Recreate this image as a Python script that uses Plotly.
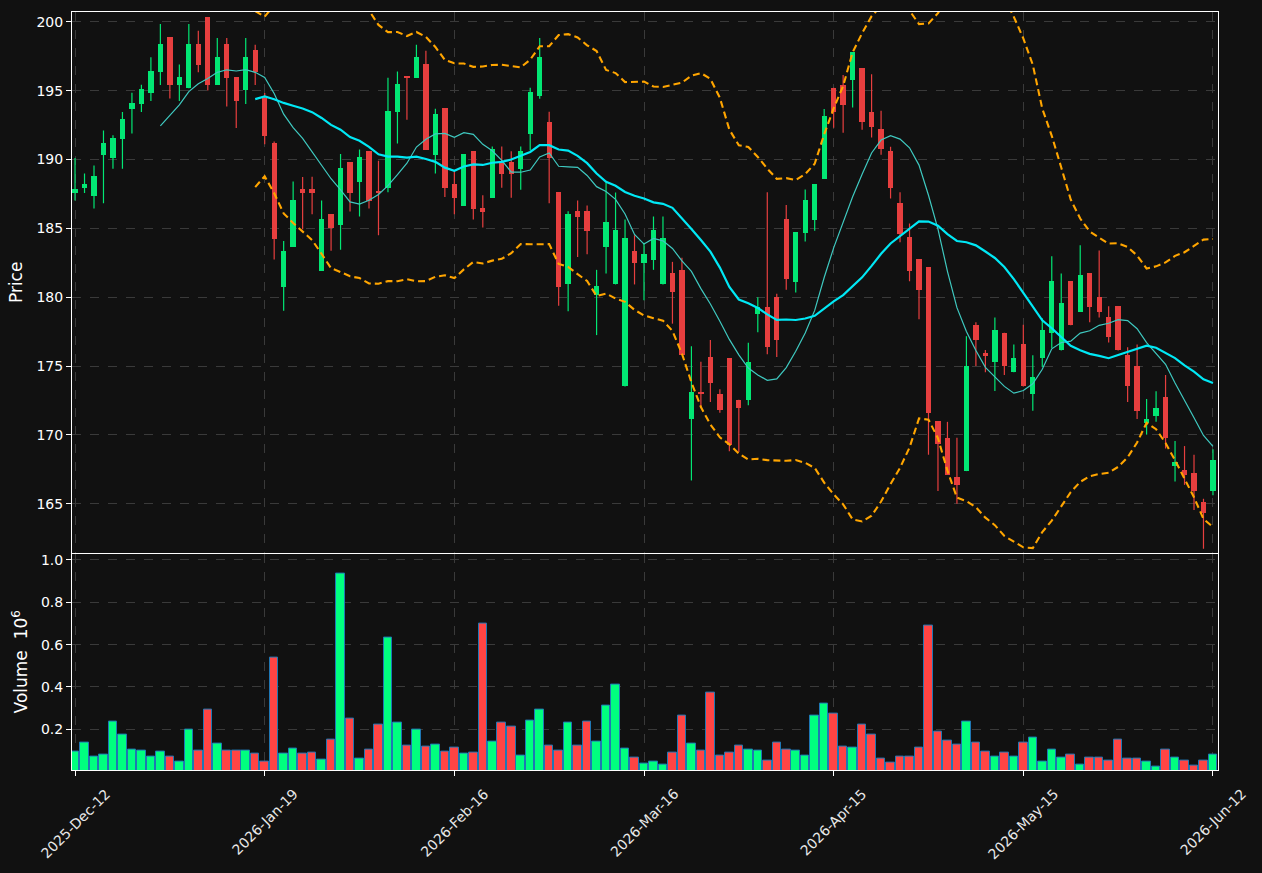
import plotly.graph_objects as go
import pandas as pd

opens = [187.58,187.96,187.38,190.35,190.12,191.51,193.68,194.03,194.84,196.35,
         198.87,195.41,195.19,198.36,200.33,195.41,198.36,195.97,195.04,197.93,
         194.48,191.18,180.78,183.67,187.86,187.86,181.94,186.04,185.26,189.82,
         188.37,190.60,187.66,187.96,193.45,196.00,195.92,196.93,190.35,193.73,
         188.21,186.65,190.60,186.47,187.23,189.92,189.82,189.29,191.86,194.61,
         192.72,187.63,180.93,186.27,186.27,180.17,183.67,180.93,173.52,183.37,
         182.49,182.74,180.93,181.76,181.99,171.13,173.14,175.69,172.99,175.56,
         172.56,172.51,178.81,179.27,180.02,185.69,181.13,184.68,185.64,188.61,
         195.21,195.39,195.77,196.62,193.42,192.21,190.60,186.85,184.38,182.77,
         182.19,170.98,169.79,166.97,167.37,178.01,175.96,175.31,177.42,174.55,
         176.62,172.94,175.56,177.37,176.14,181.18,178.96,181.76,180.02,178.58,
         179.37,175.81,175.03,170.87,171.38,172.76,167.75,167.42,167.20,165.16,
         165.91]
highs = [190.12,188.99,189.57,192.11,191.76,193.45,194.86,195.44,197.43,199.85,
         198.87,196.90,199.85,199.35,200.33,198.84,198.84,195.97,198.84,198.34,
         194.84,191.31,184.08,188.41,188.74,188.76,187.02,186.04,190.40,189.82,
         190.73,190.60,189.92,195.94,196.40,196.00,198.34,197.91,193.70,193.73,
         189.17,190.40,190.60,187.40,190.95,190.95,190.60,190.95,195.21,198.84,
         193.47,187.63,186.24,187.02,186.67,181.99,188.33,187.60,185.64,184.51,
         183.95,185.87,185.87,182.57,182.87,176.44,175.31,176.90,173.32,175.56,
         172.56,176.70,180.00,187.63,180.25,186.70,184.73,187.83,188.21,193.68,
         195.21,196.15,197.78,196.62,196.20,193.55,190.93,187.63,185.36,182.77,
         182.19,170.98,170.95,169.79,177.17,178.18,176.17,178.53,177.42,176.57,
         178.01,175.79,178.48,182.97,181.73,181.18,183.77,181.76,183.40,179.34,
         179.37,176.37,176.57,172.61,173.17,174.35,169.56,169.19,168.56,165.36,
         168.96]
lows = [187.02,187.58,186.45,186.82,189.34,189.34,191.89,193.45,194.25,195.41,
        194.43,194.25,195.19,196.35,195.01,195.41,193.85,192.29,194.03,195.41,
        191.11,182.74,179.01,183.67,184.93,186.02,181.94,183.37,183.45,186.22,
        185.87,186.45,184.51,187.63,191.16,192.90,195.92,190.70,188.99,187.28,
        186.02,186.65,185.64,185.06,187.23,187.96,187.23,187.81,190.68,194.41,
        186.82,179.39,178.99,182.92,183.12,177.25,181.73,180.93,173.52,180.93,
        179.79,181.99,180.93,178.08,175.81,166.69,172.03,172.39,171.61,168.81,
        168.76,172.16,177.45,175.86,175.66,180.55,180.35,184.05,184.83,188.61,
        192.32,191.94,193.78,192.16,191.61,190.35,187.18,184.00,181.16,178.41,
        168.56,165.93,167.12,165.00,167.37,175.01,174.55,173.19,174.35,174.55,
        173.52,171.76,174.93,176.32,176.14,177.96,178.96,178.18,178.53,176.72,
        176.14,172.39,171.15,170.02,170.95,169.01,166.62,166.37,164.55,161.73,
        165.61]
closes = [187.86,188.21,188.79,191.18,191.56,192.92,194.08,195.11,196.40,198.36,
          195.41,195.97,198.36,196.85,195.41,197.43,195.92,194.25,197.43,196.35,
          191.71,184.25,183.37,187.05,187.58,187.58,185.69,185.06,189.37,187.58,
          190.17,187.00,187.58,193.50,195.47,195.94,197.43,190.70,193.30,187.96,
          187.23,190.40,186.42,186.22,190.75,188.97,188.97,190.60,194.89,197.43,
          190.12,180.78,186.04,185.84,184.83,180.83,185.46,184.88,184.30,182.49,
          183.14,184.88,184.30,180.35,175.81,173.14,172.94,173.75,171.78,169.26,
          171.93,175.31,179.31,176.42,176.87,181.36,184.73,187.05,188.21,193.15,
          193.45,193.95,197.78,192.72,192.37,190.76,187.93,184.56,181.91,180.55,
          171.58,169.31,167.12,166.34,175.03,176.92,175.76,177.63,175.01,175.61,
          173.52,174.23,177.63,181.18,179.59,177.96,181.61,179.31,178.96,177.14,
          176.14,173.52,171.71,171.15,171.96,169.77,168.00,167.12,165.91,164.33,
          168.20]
volume_millions = [0.096,0.139,0.073,0.082,0.238,0.176,0.106,0.101,0.073,0.096,
                   0.073,0.049,0.200,0.101,0.294,0.134,0.101,0.101,0.101,0.087,
                   0.049,0.539,0.087,0.111,0.087,0.092,0.059,0.153,0.934,0.252,
                   0.064,0.106,0.224,0.633,0.233,0.125,0.200,0.120,0.129,0.096,
                   0.115,0.087,0.092,0.699,0.144,0.233,0.214,0.078,0.242,0.294,
                   0.125,0.101,0.233,0.125,0.238,0.144,0.313,0.412,0.111,0.068,
                   0.040,0.049,0.035,0.092,0.266,0.134,0.101,0.374,0.078,0.092,
                   0.125,0.106,0.101,0.054,0.139,0.106,0.101,0.078,0.266,0.322,
                   0.275,0.120,0.115,0.224,0.176,0.064,0.045,0.073,0.073,0.115,
                   0.689,0.191,0.148,0.129,0.238,0.139,0.096,0.073,0.092,0.073,
                   0.139,0.162,0.049,0.106,0.068,0.082,0.035,0.068,0.068,0.054,
                   0.153,0.064,0.064,0.049,0.026,0.106,0.068,0.054,0.031,0.054,
                   0.082]
tick_labels = ["2025-Dec-12", "2026-Jan-19", "2026-Feb-16", "2026-Mar-16",
               "2026-Apr-15", "2026-May-15", "2026-Jun-12"]

N = len(closes)
idx = list(range(N))
tick_step = 20
tick_pos = list(range(0, N, tick_step))

UP_C, DN_C = "#02e774", "#e73f3f"
UP_V, DN_V = "#00ff7f", "#ff4444"
up = [c >= o for o, c in zip(opens, closes)]

close_s = pd.Series(closes)
ma10 = close_s.rolling(10).mean()
ma20 = close_s.rolling(20).mean()
sd20 = close_s.rolling(20).std(ddof=0)
bb_up = ma20 + 2 * sd20
bb_lo = ma20 - 2 * sd20

fig = go.Figure()

# wicks
for is_up, col in ((True, UP_C), (False, DN_C)):
    wx, wy = [], []
    for i in idx:
        if up[i] == is_up:
            wx += [i, i, None]
            wy += [lows[i], highs[i], None]
    fig.add_trace(go.Scatter(x=wx, y=wy, mode="lines", line=dict(color=col, width=1.2),
                             hoverinfo="skip", showlegend=False, xaxis="x", yaxis="y"))

# bodies
fig.add_trace(go.Bar(x=idx, y=[abs(c - o) for o, c in zip(opens, closes)],
                     base=[min(o, c) for o, c in zip(opens, closes)],
                     width=0.56, marker=dict(color=[UP_C if u else DN_C for u in up], line=dict(width=0)),
                     showlegend=False, xaxis="x", yaxis="y"))

# moving averages / bands
fig.add_trace(go.Scatter(x=idx, y=ma10, mode="lines", line=dict(color="#3fc9c0", width=1.2),
                         showlegend=False, xaxis="x", yaxis="y"))
fig.add_trace(go.Scatter(x=idx, y=ma20, mode="lines", line=dict(color="#00e8f5", width=2.2),
                         showlegend=False, xaxis="x", yaxis="y"))
for band in (bb_up, bb_lo):
    fig.add_trace(go.Scatter(x=idx, y=band, mode="lines",
                             line=dict(color="#ffa500", width=2.1, dash="7px,4px"),
                             showlegend=False, xaxis="x", yaxis="y"))

# volume
fig.add_trace(go.Bar(x=idx, y=volume_millions, width=0.9,
                     marker=dict(color=[UP_V if u else DN_V for u in up],
                                 line=dict(color="#1f77b4", width=1)),
                     showlegend=False, xaxis="x2", yaxis="y2"))

# rotated, centred date labels under the volume panel
for p, lab in zip(tick_pos, tick_labels):
    fig.add_annotation(x=p, y=0, xref="x2", yref="paper", text=lab, showarrow=False,
                       textangle=-45, xanchor="center", yanchor="top", yshift=-13,
                       font=dict(family="DejaVu Sans", size=14, color="#e8e8e8"))

grid = dict(showgrid=True, gridcolor="#3a3a3a", griddash="dash", gridwidth=1,
            showline=True, linecolor="white", linewidth=1, mirror=True, zeroline=False)
xr = [-0.32, 120.53]
fig.update_layout(
    width=1262, height=873,
    paper_bgcolor="#111111", plot_bgcolor="#111111",
    margin=dict(l=72, r=44, t=10, b=103),
    font=dict(family="DejaVu Sans", size=14, color="white"),
    barmode="overlay", bargap=0,
    xaxis=dict(domain=[0, 1], range=xr, anchor="y", tickvals=tick_pos, showticklabels=False,
               ticks="", **grid),
    xaxis2=dict(domain=[0, 1], range=xr, anchor="y2", matches="x", tickvals=tick_pos,
                showticklabels=False, ticks="outside", ticklen=5,
                tickcolor="white", **grid),
    yaxis=dict(domain=[0.2868, 1], range=[161.45, 200.72], anchor="x",
               tickvals=list(range(165, 201, 5)), ticks="outside", ticklen=5, tickcolor="white",
               title=dict(text="Price", standoff=9), **grid),
    yaxis2=dict(domain=[0, 0.2855], range=[0.008, 1.03], anchor="x2",
                tickvals=[0.2, 0.4, 0.6, 0.8, 1.0], tickformat=".1f", ticks="outside", ticklen=5,
                tickcolor="white", title=dict(text="Volume  10<sup>6</sup>", standoff=8), **grid),
)

fig.write_html("out.html")
